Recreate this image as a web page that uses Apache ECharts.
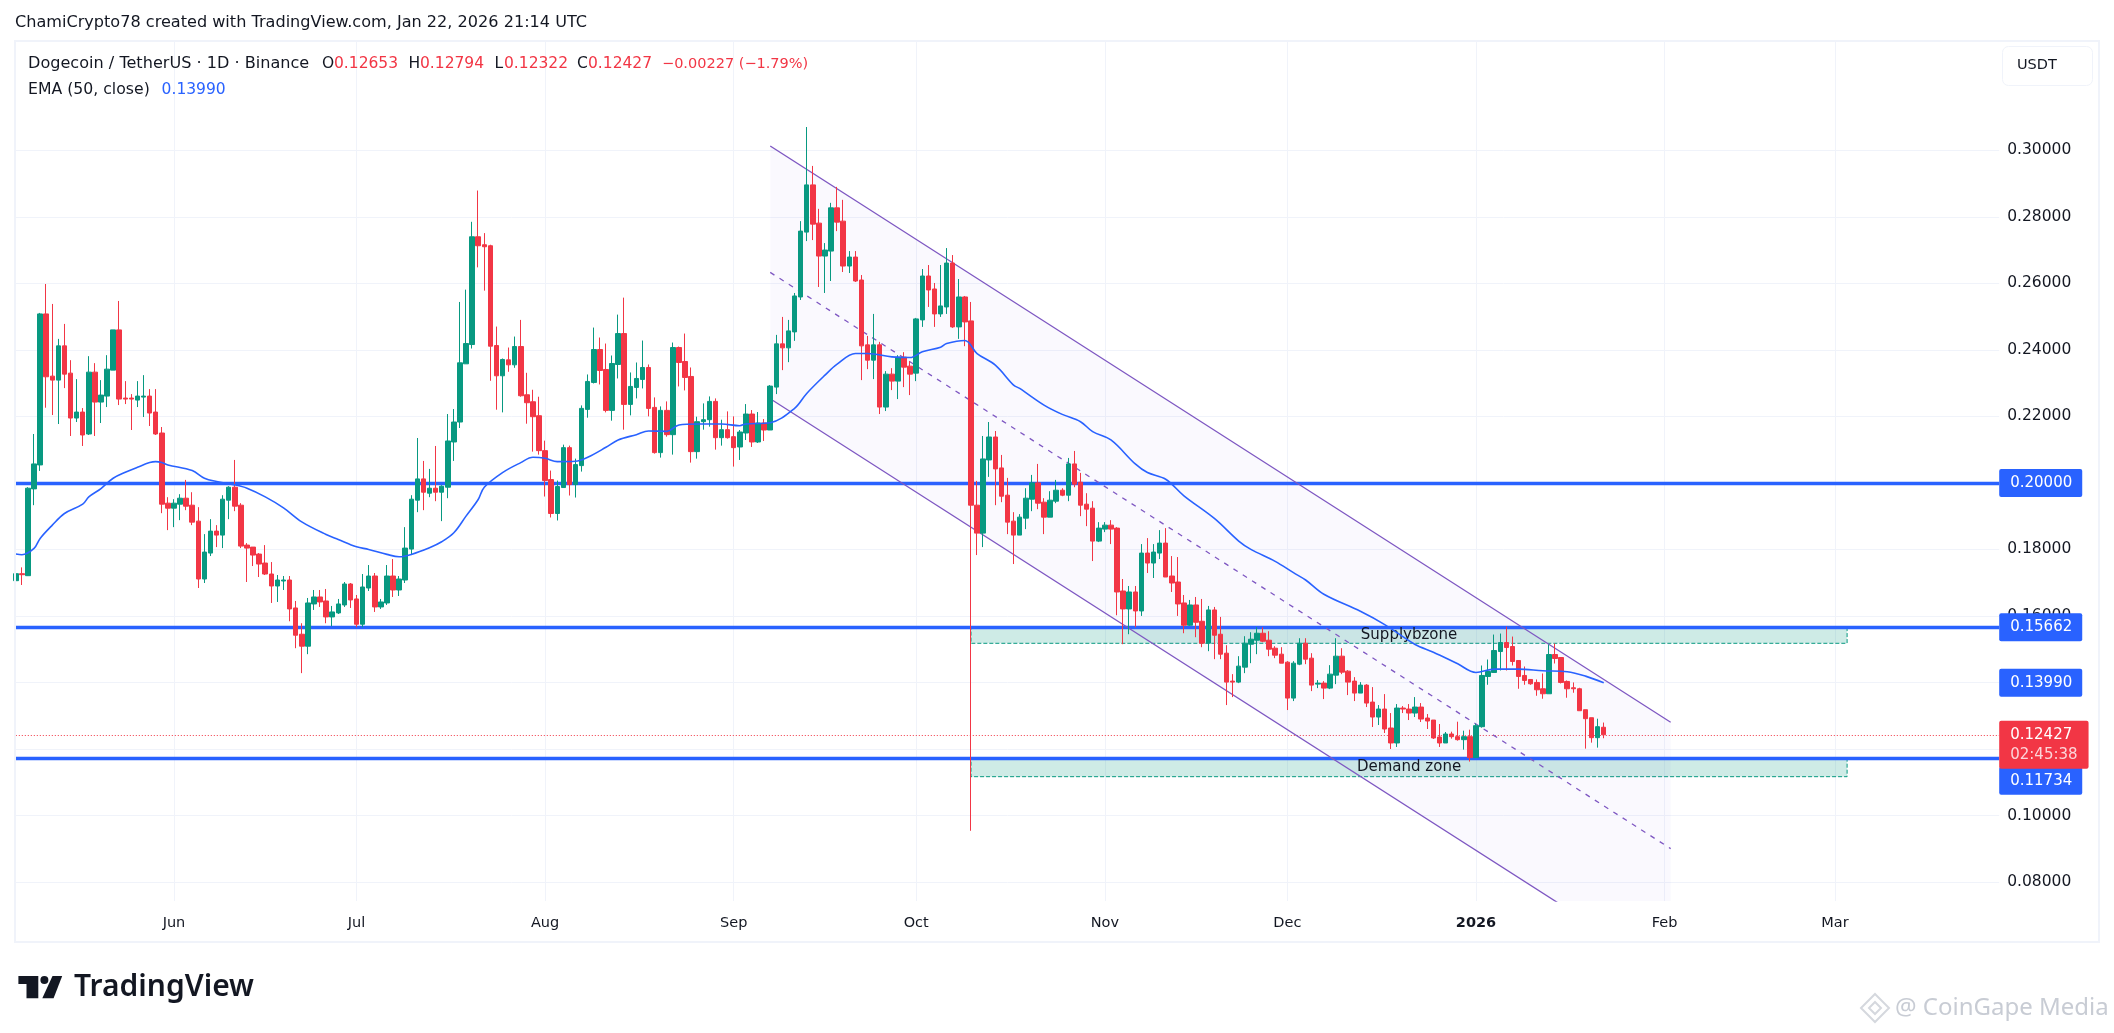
<!DOCTYPE html>
<html><head><meta charset="utf-8">
<style>html,body{margin:0;padding:0;background:#fff}#c{width:2114px;height:1033px}</style>
<script src="https://cdn.jsdelivr.net/npm/echarts@6/dist/echarts.min.js"></script>
</head><body><div id="c"></div>
<script>
const firstDay = Date.UTC(2025, 4, 6);
const axisDays = 327;
const monthTicks = ['2025-06-01','2025-07-01','2025-08-01','2025-09-01','2025-10-01','2025-11-01','2025-12-01','2026-01-01','2026-02-01','2026-03-01'];
const monthLabels = ['Jun','Jul','Aug','Sep','Oct','Nov','Dec','2026','Feb','Mar'];
const priceTicks = [0.08,0.10,0.12,0.14,0.16,0.18,0.20,0.22,0.24,0.26,0.28,0.30];

const opens = [.1706,.1727,.1721,.1982,.2054,.2508,.2321,.2309,.2412,.2330,.2195,.2213,.2147,.2333,.2243,.2261,.2339,.2460,.2255,.2255,.2249,.2258,.2261,.2213,.2150,.1939,
.1924,.1936,.1954,.1933,.1885,.1711,.1789,.1855,.1843,.1948,.1987,.1933,.1813,.1807,.1786,.1759,.1726,.1690,.1705,.1708,.1624,.1545,.1509,.1636,.1657,.1645,.1597,.1609,.1633,.1696,
.1651,.1575,.1684,.1720,.1627,.1639,.1720,.1678,.1708,.1801,.1948,.2012,.1969,.1984,.1972,.1987,.2123,.2183,.2358,.2416,.2740,.2716,.2713,.2413,.2322,.2370,.2355,.2410,.2265,.2244,.2202,
.2097,.2010,.1908,.1986,.2106,.1995,.2052,.2221,.2302,.2401,.2341,.2218,.2356,.2449,.2236,.2287,.2311,.2347,.2227,.2091,.2218,.2145,.2407,.2365,.2320,.2094,.2184,.2190,.2245,.2136,.2160,
.2139,.2108,.2150,.2207,.2123,.2180,.2159,.2288,.2418,.2406,.2454,.2559,.2754,.2896,.2781,.2682,.2697,.2827,.2787,.2652,.2679,.2610,.2415,.2369,.2415,.2228,.2327,.2306,.2378,.2351,
.2330,.2490,.2622,.2583,.2508,.2529,.2661,.2469,.2559,.2487,.1933,.1849,.2069,.2138,.2045,.1963,.1885,.1843,.1894,.1951,.2000,.1942,.1897,.1945,.1978,.1963,.2057,.2002,.1936,.1924,.1825,
.1861,.1873,.1864,.1675,.1621,.1672,.1615,.1789,.1759,.1789,.1819,.1720,.1702,.1639,.1572,.1633,.1584,.1518,.1618,.1545,.1488,.1404,.1401,.1446,.1515,.1527,.1548,.1527,.1503,.1485,
.1461,.1353,.1455,.1518,.1473,.1395,.1398,.1383,.1422,.1479,.1434,.1404,.1368,.1392,.1341,.1296,.1320,.1263,.1218,.1323,.1320,.1308,.1326,.1293,.1287,.1236,.1218,.1245,.1237,.1228,.1237,
.1174,.1267,.1418,.1430,.1493,.1520,.1508,.1466,.1421,.1409,.1400,.1381,.1366,.1484,.1475,.1403,.1384,.1381,.1318,.1294,.1234,.12653];
const closes = [.1727,.1724,.1984,.2057,.2508,.2319,.2309,.2412,.2327,.2195,.2213,.2144,.2333,.2243,.2264,.2342,.2460,.2252,.2252,.2252,.2261,.2261,.2210,.2147,.1936,.1924,
.1939,.1954,.1930,.1882,.1711,.1792,.1855,.1843,.1951,.1987,.1930,.1810,.1804,.1783,.1756,.1726,.1690,.1708,.1708,.1621,.1542,.1509,.1639,.1657,.1642,.1597,.1612,.1636,.1696,.1648,
.1575,.1687,.1720,.1627,.1642,.1720,.1678,.1711,.1804,.1951,.2012,.1972,.1984,.1972,.1990,.2126,.2183,.2361,.2419,.2740,.2713,.2710,.2411,.2322,.2371,.2355,.2410,.2262,.2241,.2199,.2097,
.2007,.1908,.1989,.2106,.1995,.2055,.2224,.2305,.2401,.2338,.2218,.2359,.2449,.2236,.2290,.2314,.2347,.2224,.2091,.2218,.2145,.2407,.2362,.2317,.2094,.2184,.2190,.2245,.2136,.2160,.2136,
.2106,.2153,.2207,.2123,.2180,.2159,.2291,.2418,.2406,.2457,.2562,.2757,.2896,.2778,.2682,.2700,.2827,.2784,.2652,.2679,.2607,.2412,.2369,.2415,.2228,.2327,.2306,.2378,.2348,.2327,
.2493,.2622,.2580,.2508,.2532,.2661,.2469,.2559,.2484,.1933,.1849,.2072,.2138,.2042,.1960,.1882,.1843,.1897,.1954,.2000,.1939,.1897,.1948,.1978,.1963,.2057,.1996,.1933,.1921,.1825,.1864,
.1873,.1861,.1672,.1621,.1672,.1615,.1789,.1759,.1792,.1819,.1717,.1699,.1636,.1572,.1633,.1581,.1518,.1618,.1542,.1485,.1401,.1401,.1449,.1518,.1530,.1548,.1524,.1500,.1482,.1458,
.1353,.1458,.1518,.1470,.1392,.1398,.1383,.1425,.1479,.1431,.1401,.1368,.1392,.1338,.1296,.1320,.1260,.1218,.1323,.1320,.1308,.1326,.1290,.1284,.1233,.1218,.1245,.1237,.1228,.1237,.1174,
.1270,.1421,.1433,.1496,.1520,.1505,.1463,.1418,.1406,.1396,.1378,.1366,.1484,.1472,.1400,.1381,.1381,.1315,.1291,.1234,.1267,.12427];
const lows = [.1646,.1693,.1720,.1933,.2036,.2226,.2204,.2177,.2285,.2141,.2183,.2111,.2144,.2141,.2180,.2228,.2339,.2234,.2237,.2159,.2228,.2198,.2171,.2144,.1909,.1858,
.1867,.1888,.1918,.1873,.1684,.1699,.1780,.1807,.1804,.1891,.1915,.1804,.1702,.1750,.1717,.1723,.1639,.1642,.1678,.1584,.1503,.1428,.1485,.1618,.1627,.1578,.1569,.1606,.1627,.1624,
.1566,.1566,.1675,.1612,.1621,.1633,.1657,.1660,.1699,.1783,.1912,.1918,.1957,.1945,.1885,.1954,.2066,.2165,.2358,.2404,.2648,.2578,.2307,.2220,.2212,.2334,.2346,.2259,.2178,.2094,.2085,
.1959,.1896,.1887,.1986,.1962,.1956,.2034,.2196,.2299,.2296,.2212,.2187,.2314,.2160,.2203,.2254,.2284,.2200,.2088,.2076,.2139,.2085,.2290,.2278,.2061,.2073,.2160,.2169,.2100,.2112,.2133,
.2049,.2069,.2129,.2108,.2120,.2126,.2159,.2267,.2339,.2363,.2427,.2550,.2727,.2730,.2589,.2571,.2607,.2757,.2634,.2631,.2604,.2309,.2342,.2312,.2207,.2216,.2279,.2252,.2288,.2264,
.2306,.2469,.2529,.2469,.2499,.2508,.2466,.2433,.2411,.0954,.1783,.1807,.2018,.1933,.1942,.1846,.1756,.1843,.1861,.1915,.1921,.1846,.1897,.1939,.1960,.1945,.1987,.1900,.1870,.1765,.1822,
.1852,.1816,.1602,.1515,.1545,.1566,.1600,.1729,.1714,.1771,.1717,.1672,.1600,.1548,.1570,.1536,.1506,.1494,.1470,.1470,.1332,.1356,.1398,.1428,.1458,.1485,.1521,.1479,.1473,.1458,
.1317,.1344,.1452,.1455,.1374,.1383,.1350,.1380,.1395,.1425,.1362,.1344,.1368,.1326,.1266,.1272,.1248,.1200,.1206,.1308,.1287,.1296,.1281,.1260,.1230,.1206,.1218,.1231,.1225,.1198,.1162,
.1174,.1264,.1393,.1430,.1436,.1436,.1451,.1381,.1393,.1393,.1360,.1351,.1366,.1457,.1397,.1354,.1369,.1315,.1201,.1219,.1204,.12322];
const highs = [.1730,.1746,.1987,.2147,.2511,.2598,.2538,.2433,.2478,.2369,.2312,.2225,.2381,.2360,.2309,.2384,.2460,.2547,.2306,.2267,.2306,.2324,.2282,.2282,.2168,.1957,
.1951,.1966,.2009,.1972,.1927,.1846,.1891,.1873,.1963,.1990,.2069,.1939,.1819,.1807,.1789,.1813,.1762,.1723,.1720,.1720,.1645,.1578,.1654,.1678,.1678,.1681,.1630,.1651,.1702,.1699,
.1663,.1726,.1753,.1729,.1651,.1753,.1771,.1720,.1867,.1963,.2135,.2066,.2042,.2111,.1993,.2207,.2222,.2544,.2581,.2785,.2879,.2751,.2716,.2470,.2374,.2407,.2440,.2490,.2331,.2280,.2259,
.2127,.2037,.2007,.2115,.2112,.2073,.2233,.2326,.2467,.2437,.2419,.2383,.2506,.2557,.2332,.2362,.2428,.2356,.2257,.2230,.2245,.2422,.2410,.2449,.2347,.2199,.2239,.2260,.2254,.2190,.2215,
.2200,.2159,.2237,.2219,.2213,.2192,.2294,.2445,.2499,.2490,.2571,.2787,.3070,.2953,.2824,.2721,.2842,.2890,.2851,.2697,.2697,.2625,.2442,.2508,.2424,.2336,.2345,.2384,.2393,.2366,
.2496,.2643,.2655,.2601,.2655,.2706,.2685,.2613,.2562,.2544,.2006,.2141,.2183,.2156,.2084,.2015,.1912,.1906,.1984,.2024,.2057,.1954,.1975,.2009,.1984,.2075,.2096,.2030,.1969,.1945,.1882,
.1882,.1888,.1867,.1711,.1690,.1690,.1816,.1834,.1816,.1858,.1864,.1780,.1777,.1663,.1648,.1657,.1651,.1630,.1627,.1597,.1512,.1425,.1479,.1539,.1551,.1566,.1566,.1554,.1509,.1506,
.1464,.1464,.1533,.1533,.1488,.1407,.1404,.1452,.1533,.1503,.1437,.1416,.1401,.1395,.1386,.1332,.1365,.1308,.1335,.1329,.1335,.1356,.1338,.1305,.1287,.1275,.1251,.1252,.1282,.1255,.1258,
.1276,.1451,.1469,.1544,.1547,.1568,.1538,.1466,.1448,.1409,.1409,.1427,.1514,.1517,.1475,.1406,.1400,.1384,.1318,.1294,.1291,.12794];

const emaDay = [0,1,3,4,6,8,11,12,14,16,18,20,22,23,24,25,29,31,33,36,38,41,44,47,51,53,56,58,61,63,65,68,70,72,74,76,77,80,83,85,87,89,92,94,97,99,102,104,107,109,112,116,119,120,124,128,130,133,135,138,140,144,147,149,152,153,156,158,161,164,165,169,172,175,177,180,184,186,189,192,197,201,203,207,210,212,215,221,225,230,233,237,240,243,247,251,255,258,261];
const emaValue = [.1786,.1784,.1803,.1833,.1873,.1908,.1936,.1958,.1983,.2014,.2032,.2047,.2061,.2064,.2061,.2054,.2037,.2014,.2004,.1994,.1984,.1958,.1925,.1883,.1845,.1830,.1808,.1800,.1785,.1778,.1785,.1805,.1823,.1850,.1900,.1950,.1987,.2031,.2061,.2077,.2074,.2064,.2065,.2077,.2107,.2129,.2145,.2156,.2155,.2174,.2177,.2177,.2172,.2177,.2181,.2224,.2269,.2324,.2357,.2389,.2389,.2379,.2377,.2394,.2408,.2419,.2428,.2389,.2354,.2294,.2284,.2234,.2206,.2184,.2154,.2129,.2057,.2031,.2011,.1961,.1893,.1825,.1800,.1764,.1730,.1708,.1665,.1614,.1574,.1514,.1491,.1456,.1430,.1440,.1440,.1435,.1432,.1419,.1399];

const channelDays = ['2025-09-07','2026-02-02'];
const channelTop = [.30129,.12802];
const channelMid = [.26329,.09004];
const channelBottom = [.22529,.05206];
const levels = [.20000,.15662,.11734];
const lastPrice = .12427;
const emaLast = .13990;
const zoneDays = ['2025-10-10','2026-03-03'];
const supplyZone = [.15662,.15177];
const demandZone = [.11734,.11167];

const dayName = t => new Date(t).toISOString().slice(0,10);
const dates = Array.from({length:axisDays},(_,i)=>dayName(firstDay+i*864e5));
const candles = opens.map((o,i)=>[o,closes[i],lows[i],highs[i]]);
const pairs = (ys)=>channelDays.map((d,i)=>[d,ys[i]]);
const GREEN='#089981',RED='#f23645',BLUE='#2962ff',INK='#131722',PURPLE='#7e57c2',GRID='#f0f3fa',NONE='rgba(0,0,0,0)';
const FONT='"DejaVu Sans",sans-serif';
const LOGO='"Noto Sans",sans-serif';

const txt=(text,x,y,o={})=>({type:'text',x,y,silent:true,z:o.z||50,style:{text,fill:o.fill||INK,fontFamily:o.font||FONT,fontSize:o.size||15.5,fontWeight:o.weight||400,verticalAlign:'middle',align:o.align||'left'}});
const tag=(bg,value,dy)=>({show:true,position:'end',distance:0,formatter:value.toFixed(5),color:'#fff',backgroundColor:bg,fontFamily:FONT,fontSize:15,padding:[7,10,6,11],borderRadius:2,offset:[0,dy||0]});

const chart=echarts.init(document.getElementById('c'),null,{renderer:'canvas'});
chart.setOption({
  animation:false,backgroundColor:'#fff',
  grid:{left:15.8,top:41,width:1983.4,height:860,containLabel:false},
  xAxis:{type:'category',data:dates,boundaryGap:false,axisLine:{show:false},axisTick:{show:false},
    splitLine:{show:true,lineStyle:{color:GRID,width:1},interval:(i,v)=>monthTicks.includes(v)},
    axisLabel:{interval:(i,v)=>monthTicks.includes(v),margin:15,color:INK,fontFamily:FONT,fontSize:14.5,
      formatter:v=>{const l=monthLabels[monthTicks.indexOf(v)];return l==='2026'?'{b|2026}':l},rich:{b:{fontWeight:700,fontSize:14.5,color:INK,fontFamily:FONT}}}},
  yAxis:{type:'value',position:'right',min:.07429,max:.33286,axisLine:{show:false},
    axisTick:{show:false,customValues:priceTicks},
    splitLine:{show:true,lineStyle:{color:GRID,width:1}},
    axisLabel:{customValues:priceTicks,margin:8,color:INK,fontFamily:FONT,fontSize:15.5,formatter:v=>v.toFixed(5)}},
  graphic:[
    {type:'rect',silent:true,z:40,shape:{x:15,y:41,width:2084,height:901},style:{fill:'none',stroke:GRID,lineWidth:2}},
    {type:'rect',silent:true,z:40,shape:{x:2002.5,y:46.5,width:90,height:39,r:6},style:{fill:'#fff',stroke:GRID,lineWidth:1}},
    txt('USDT',2017,65,{size:14.5}),
    txt('ChamiCrypto78 created with TradingView.com, Jan 22, 2026 21:14 UTC',15,23,{size:16.1}),
    txt('Dogecoin / TetherUS · 1D · Binance',28,64,{size:16.1}),
    txt('O',322,64),txt('0.12653',334,64,{fill:RED}),
    txt('H',408.5,64),txt('0.12794',420,64,{fill:RED}),
    txt('L',494.6,64),txt('0.12322',504,64,{fill:RED}),
    txt('C',577,64),txt('0.12427',588,64,{fill:RED}),
    txt('−0.00227 (−1.79%)',662,64,{fill:RED,size:14.5}),
    txt('EMA (50, close)',28,90,{size:15.7}),txt('0.13990',161.6,90,{fill:BLUE}),
    {type:'polygon',silent:true,z:50,shape:{points:[[18.4,976],[38.3,976],[38.3,998.3],[26.5,998.3],[26.5,984],[18.4,984]]},style:{fill:'#131722'}},
    {type:'circle',silent:true,z:50,shape:{cx:44.4,cy:980,r:4},style:{fill:'#131722'}},
    {type:'polygon',silent:true,z:50,shape:{points:[[52.5,976],[62.2,976],[53.6,998.3],[42.3,998.3]]},style:{fill:'#131722'}},
    txt('TradingView',74,987,{size:30,weight:600,font:LOGO}),
    {type:'polygon',silent:true,z:50,shape:{points:[[1875,994],[1889,1008],[1875,1022],[1861,1008]]},style:{fill:'none',stroke:'#d5d8de',lineWidth:2}},
    {type:'polygon',silent:true,z:50,shape:{points:[[1875,1002],[1881,1008],[1875,1014],[1869,1008]]},style:{fill:'none',stroke:'#d5d8de',lineWidth:2}},
    txt('@ CoinGape Media',1895,1008,{size:24,fill:'#c8ccd4',font:LOGO})
  ],
  series:[
    {type:'custom',name:'channel',z:1,clip:true,silent:true,data:[[dates.indexOf(channelDays[0]),channelTop[0]]],
      renderItem:(p,api)=>{const a=dates.indexOf(channelDays[0]),b=dates.indexOf(channelDays[1]);
        return {type:'polygon',shape:{points:[api.coord([a,channelTop[0]]),api.coord([b,channelTop[1]]),api.coord([b,channelBottom[1]]),api.coord([a,channelBottom[0]])]},style:{fill:'rgba(100,90,230,0.035)'}};}},
    {type:'line',name:'levels',z:1,data:[],silent:true,
      markArea:{silent:true,z:1,itemStyle:{color:'rgba(8,153,129,0.2)',borderColor:GREEN,borderWidth:1,borderType:'dashed'},
        label:{show:true,position:'inside',color:INK,fontFamily:FONT,fontSize:15},
        data:[[{name:'Supplybzone',xAxis:zoneDays[0],yAxis:supplyZone[0]},{xAxis:zoneDays[1],yAxis:supplyZone[1]}],
              [{name:'Demand zone',xAxis:zoneDays[0],yAxis:demandZone[0]},{xAxis:zoneDays[1],yAxis:demandZone[1]}]]},
      markLine:{silent:true,z:1,symbol:'none',precision:5,
        data:[
          {yAxis:lastPrice,lineStyle:{color:RED,type:[1,2],width:1},label:{show:false}},
          {yAxis:levels[0],lineStyle:{color:BLUE,type:'solid',width:3.4},label:tag(BLUE,levels[0])},
          {yAxis:levels[1],lineStyle:{color:BLUE,type:'solid',width:3.4},label:tag(BLUE,levels[1])},
          {yAxis:levels[2],lineStyle:{color:BLUE,type:'solid',width:3.4},label:tag(BLUE,levels[2],23)},
          {yAxis:emaLast,lineStyle:{color:NONE,width:1,type:'solid'},label:tag(BLUE,emaLast)},
          {yAxis:lastPrice,lineStyle:{color:NONE,width:1,type:'solid'},label:{show:true,position:'end',distance:0,offset:[0,10],backgroundColor:RED,padding:[4,11,4,11],borderRadius:2,
            formatter:'{a|'+lastPrice.toFixed(5)+'}\n{b|02:45:38}',rich:{a:{color:'#fff',fontFamily:FONT,fontSize:15,lineHeight:20},b:{color:'#fcd5d9',fontFamily:FONT,fontSize:15,lineHeight:20}}}}
        ]}},
    {type:'line',name:'top',z:2,data:pairs(channelTop),showSymbol:false,silent:true,lineStyle:{color:PURPLE,width:1.3}},
    {type:'line',name:'bottom',z:2,data:pairs(channelBottom),showSymbol:false,silent:true,lineStyle:{color:PURPLE,width:1.3}},
    {type:'line',name:'mid',z:2,data:pairs(channelMid),showSymbol:false,silent:true,lineStyle:{color:PURPLE,width:1.3,type:[5,6]}},
    {type:'candlestick',name:'DOGEUSDT',z:3,data:candles,barWidth:5,silent:true,
      itemStyle:{color:GREEN,color0:RED,borderColor:GREEN,borderColor0:RED,borderWidth:1}},
    {type:'line',name:'EMA (50, close)',z:4,data:emaDay.map((d,i)=>[dates[d],emaValue[i]]),showSymbol:false,silent:true,smooth:.35,lineStyle:{color:BLUE,width:1.6}}
  ]
});
</script></body></html>
